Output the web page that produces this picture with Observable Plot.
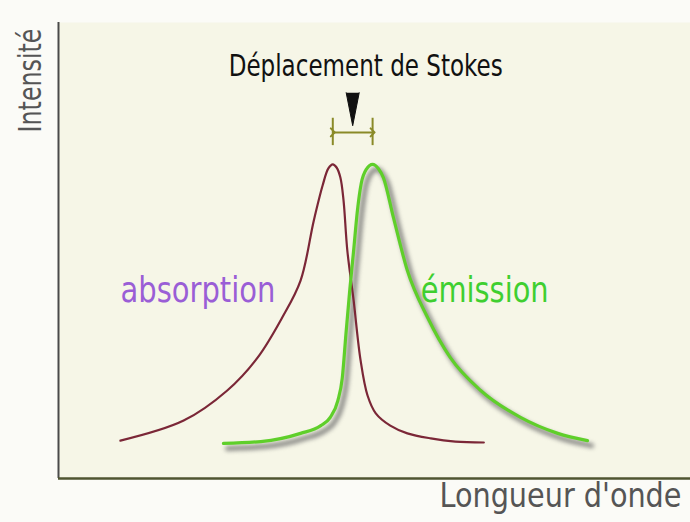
<!DOCTYPE html>
<html>
<head>
<meta charset="utf-8">
<script src="https://cdn.jsdelivr.net/npm/d3@7"></script>
<script src="https://cdn.jsdelivr.net/npm/@observablehq/plot@0.6"></script>
<style>
  html, body { margin: 0; padding: 0; background: #fbfbf7; }
  #chart { width: 690px; height: 522px; }
</style>
</head>
<body>
<div id="chart"></div>
<script>
// Wavelength (arbitrary units) and intensity (arbitrary units)
const absorptionX = [9.8, 19.8, 26.7, 31.5, 35.4, 38.3, 40.4, 41.8, 42.7, 43.4, 44.0, 44.6, 45.1, 45.7, 46.7, 47.8, 48.9, 50.2, 52.5, 55.2, 58.9, 62.8, 67.3];
const absorptionY = [8.3, 12.7, 19.3, 26.5, 35.3, 43.4, 56.6, 64.3, 68.0, 68.9, 68.2, 66.0, 61.0, 50.0, 39.0, 25.9, 18.2, 14.3, 11.6, 9.9, 8.8, 8.1, 7.9];
const emissionX = [26.1, 32.0, 38.3, 41.5, 43.0, 44.2, 44.9, 45.5, 46.1, 46.7, 47.3, 47.9, 48.7, 49.7, 50.6, 51.4, 53.0, 55.2, 58.4, 62.0, 66.8, 73.1, 79.0, 83.7];
const emissionY = [7.7, 8.1, 9.9, 11.6, 13.4, 17.1, 22.0, 32.0, 41.5, 50.0, 58.8, 64.7, 67.8, 68.9, 68.0, 66.0, 57.2, 45.6, 35.3, 26.5, 19.3, 13.4, 9.9, 8.3];

// Labels and annotation anchors (data units)
const seriesLabels = ["absorption", "émission"];
const seriesLabelX = [9.8, 57.3];
const seriesLabelY = [41.2, 41.2];
const stokesLabel = "Déplacement de Stokes";
const stokesLabelPos = [48.6, 90.3];
const stokesArrowY = [84.6];
const stokesBracketY = [75.9];
const stokesTickY = [73.0, 79.0];
const xLabel = "Longueur d'onde";
const yLabel = "Intensité";

const absorption = absorptionX.map((x, i) => ({x, y: absorptionY[i]}));
const emission = emissionX.map((x, i) => ({x, y: emissionY[i]}));
const peakOf = s => s.reduce((a, b) => (b.y > a.y ? b : a));
const absPeak = peakOf(absorption), emPeak = peakOf(emission);
const midX = (absPeak.x + emPeak.x) / 2;
const labels = seriesLabels.map((t, i) => ({t, x: seriesLabelX[i], y: seriesLabelY[i]}));

const FONT = "'Liberation Sans Narrow', 'DejaVu Sans Condensed', 'Liberation Sans', sans-serif";
const bracketColor = "#8a8a28";

const svg = Plot.plot({
  width: 690,
  height: 522,
  marginLeft: 58,
  marginRight: 0,
  marginTop: 22,
  marginBottom: 44,
  style: {background: "transparent", fontFamily: FONT},
  x: {domain: [0, 100], axis: null},
  y: {domain: [0, 100], axis: null},
  marks: [
    Plot.frame({fill: "#f6f6e7", stroke: null}),
    // emission shadow
    Plot.line(emission, {x: "x", y: "y", curve: "monotone-x", stroke: "#6b6b6b", strokeWidth: 5, strokeOpacity: 0.75, dx: 4, dy: 5}),
    Plot.line(absorption, {x: "x", y: "y", curve: "catmull-rom", stroke: "#7b2737", strokeWidth: 2.2}),
    Plot.line(emission, {x: "x", y: "y", curve: "monotone-x", stroke: "#5fcf2a", strokeWidth: 3.2}),
    // axes
    Plot.ruleX([0], {stroke: "#4a4a4a", strokeWidth: 2}),
    Plot.ruleY([0], {stroke: "#4f5530", strokeWidth: 2.5}),
    // series labels
    Plot.text(labels, {x: "x", y: "y", text: "t", textAnchor: "start", lineAnchor: "middle", fontSize: 35,
      fill: (d) => d.t === "absorption" ? "#9a5ed6" : "#3fcf30"}),
    // Stokes shift annotation
    Plot.text([stokesLabel], {x: stokesLabelPos[0], y: stokesLabelPos[1], text: d => d, fontSize: 30, fill: "#111", lineAnchor: "middle"}),
    Plot.vector(stokesArrowY, {x: midX, y: d => d, length: 33, rotate: 180, anchor: "start", shape: "spike", r: 6.5, fill: "#111", stroke: "#111", strokeWidth: 1}),
    Plot.link([{}], {x1: absPeak.x, x2: emPeak.x, y1: stokesBracketY[0], y2: stokesBracketY[0], stroke: bracketColor, strokeWidth: 2, markerStart: "arrow", markerEnd: "arrow"}),
    Plot.ruleX([absPeak.x, emPeak.x], {y1: stokesTickY[0], y2: stokesTickY[1], stroke: bracketColor, strokeWidth: 2}),
    // axis titles
    Plot.text([xLabel], {frameAnchor: "bottom-right", text: d => d, textAnchor: "end", lineAnchor: "top", fontSize: 33, fill: "#555", dx: -9, dy: 5}),
    Plot.text([yLabel], {frameAnchor: "top-left", text: d => d, textAnchor: "end", lineAnchor: "middle", rotate: -90, fontSize: 32, fill: "#555", dx: -28, dy: 6})
  ]
});

// Narrow the glyphs to mimic the condensed lettering of the original
const fitLengths = {"absorption": 155, "émission": 128, "Déplacement de Stokes": 274, "Longueur d'onde": 242, "Intensité": 104};
svg.querySelectorAll("text").forEach(t => {
  const L = fitLengths[t.textContent];
  if (L) { t.setAttribute("textLength", L); t.setAttribute("lengthAdjust", "spacingAndGlyphs"); }
});

const lines = svg.querySelectorAll('g[aria-label="line"]');
if (lines.length) lines[0].style.filter = "blur(2px)";
document.getElementById("chart").appendChild(svg);
</script>
</body>
</html>
